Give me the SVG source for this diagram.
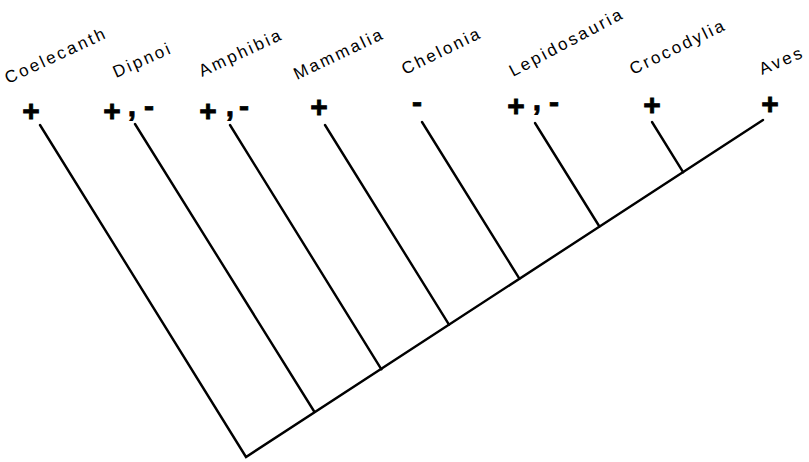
<svg xmlns="http://www.w3.org/2000/svg" width="809" height="462" viewBox="0 0 809 462">
<style>
.lbl{font-family:"Liberation Sans",Arial,sans-serif;font-size:17px;fill:#000;letter-spacing:2.5px;}
.sym{font-family:"Liberation Sans",Arial,sans-serif;font-size:30px;font-weight:bold;fill:#000;stroke:#000;stroke-width:0.8px;text-anchor:middle;}
.br{stroke:#000;stroke-width:2.4;fill:none;stroke-linecap:round;}
</style>
<defs>
<path id="p-coe" d="M8,84 L125.8,29.1"/>
<path id="p-dip" d="M116,78 L189.1,45.5"/>
<path id="p-amp" d="M202,77 L301.7,30.5"/>
<path id="p-mam" d="M297,80 L405.3,28.3"/>
<path id="p-che" d="M405,75 L503.9,26.8"/>
<path id="p-lep" d="M513,77 L636.6,11.3"/>
<path id="p-cro" d="M633,75 L749.8,18"/>
<path id="p-ave" d="M762,75 L817.2,51.6"/>
</defs>
<rect width="809" height="462" fill="#fff"/>
<g id="connectors">
<polyline class="br" points="40,125 246,457 763,120"/>
<line class="br" x1="135" y1="124" x2="314.2" y2="411.5"/>
<line class="br" x1="230" y1="125" x2="381.4" y2="369.3"/>
<line class="br" x1="325" y1="125" x2="449" y2="324.6"/>
<line class="br" x1="422" y1="122" x2="519.4" y2="278.7"/>
<line class="br" x1="535" y1="123" x2="599.4" y2="226.5"/>
<line class="br" x1="652" y1="122" x2="683.1" y2="172.2"/>
</g>
<g id="coelecanth">
<text class="lbl"><textPath href="#p-coe">Coelecanth</textPath></text>
<text class="sym" x="31" y="120.5">+</text>
</g>
<g id="dipnoi">
<text class="lbl"><textPath href="#p-dip">Dipnoi</textPath></text>
<text class="sym" x="112" y="120.5">+</text>
<text class="sym" x="132" y="116">,</text>
<text class="sym" x="149" y="115.6">-</text>
</g>
<g id="amphibia">
<text class="lbl"><textPath href="#p-amp">Amphibia</textPath></text>
<text class="sym" x="208" y="120.5">+</text>
<text class="sym" x="230" y="116">,</text>
<text class="sym" x="244" y="115.6">-</text>
</g>
<g id="mammalia">
<text class="lbl"><textPath href="#p-mam">Mammalia</textPath></text>
<text class="sym" x="319" y="116.5">+</text>
</g>
<g id="chelonia">
<text class="lbl"><textPath href="#p-che">Chelonia</textPath></text>
<text class="sym" x="417" y="111.6">-</text>
</g>
<g id="lepidosauria">
<text class="lbl"><textPath href="#p-lep">Lepidosauria</textPath></text>
<text class="sym" x="516" y="115.5">+</text>
<text class="sym" x="537" y="110">,</text>
<text class="sym" x="554" y="111.6">-</text>
</g>
<g id="crocodylia">
<text class="lbl"><textPath href="#p-cro">Crocodylia</textPath></text>
<text class="sym" x="652" y="114.5">+</text>
</g>
<g id="aves">
<text class="lbl"><textPath href="#p-ave">Aves</textPath></text>
<text class="sym" x="770" y="113.5">+</text>
</g>
</svg>
